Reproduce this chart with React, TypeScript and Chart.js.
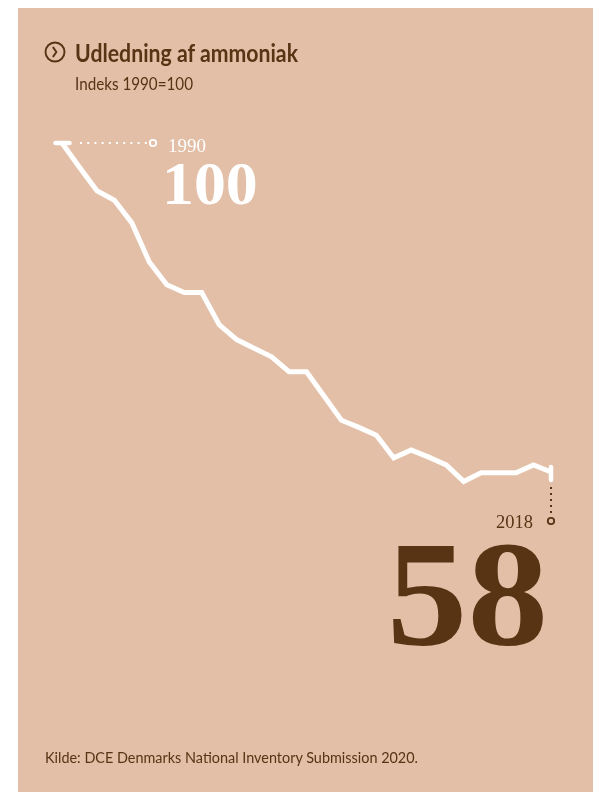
import React, { useEffect, useLayoutEffect, useRef } from "react";
import { Chart, registerables } from "chart.js";

Chart.register(...registerables);

const years = [
  1990, 1991, 1992, 1993, 1994, 1995, 1996, 1997, 1998, 1999,
  2000, 2001, 2002, 2003, 2004, 2005, 2006, 2007, 2008, 2009,
  2010, 2011, 2012, 2013, 2014, 2015, 2016, 2017, 2018,
];
const indexValues = [
  100, 96.9, 93.9, 92.7, 89.8, 84.8, 81.9, 80.9, 80.9, 76.8,
  74.9, 73.8, 72.7, 70.8, 70.8, 67.7, 64.6, 63.7, 62.7, 59.8,
  60.8, 59.9, 58.9, 56.8, 57.9, 57.9, 57.9, 58.9, 58.0,
];

const titleText = "Udledning af ammoniak";
const subtitleText = "Indeks 1990=100";
const sourceText = "Kilde: DCE Denmarks National Inventory Submission 2020.";
const startYearLabel = "1990";
const startValueLabel = "100";
const endYearLabel = "2018";
const endValueLabel = "58";

const BG = "#e2bfa6";
const BROWN = "#583314";
const PANEL_W = 575;
const PANEL_H = 784;

const markerPlugin = {
  id: "endMarkers",
  afterDatasetsDraw(chart: any) {
    const meta = chart.getDatasetMeta(0);
    const pts = meta.data;
    if (!pts || pts.length < 2) return;
    const p0 = pts[0];
    const pN = pts[pts.length - 1];
    const ctx = chart.ctx;
    ctx.save();
    ctx.strokeStyle = "#ffffff";
    ctx.lineCap = "round";
    ctx.lineWidth = 4.5;
    ctx.beginPath();
    ctx.moveTo(p0.x - 6.5, p0.y);
    ctx.lineTo(p0.x + 7.5, p0.y);
    ctx.stroke();
    ctx.lineCap = "butt";
    ctx.lineWidth = 2;
    ctx.setLineDash([2, 5.2]);
    ctx.beginPath();
    ctx.moveTo(p0.x + 18, p0.y);
    ctx.lineTo(p0.x + 85, p0.y);
    ctx.stroke();
    ctx.setLineDash([]);
    ctx.lineWidth = 1.8;
    ctx.beginPath();
    ctx.arc(p0.x + 91, p0.y, 3.2, 0, Math.PI * 2);
    ctx.stroke();
    ctx.lineCap = "round";
    ctx.lineWidth = 4.5;
    ctx.beginPath();
    ctx.moveTo(pN.x, pN.y - 5);
    ctx.lineTo(pN.x, pN.y + 8);
    ctx.stroke();
    ctx.strokeStyle = BROWN;
    ctx.lineCap = "butt";
    ctx.lineWidth = 2;
    ctx.setLineDash([2, 4]);
    ctx.beginPath();
    ctx.moveTo(pN.x, pN.y + 15);
    ctx.lineTo(pN.x, pN.y + 41);
    ctx.stroke();
    ctx.setLineDash([]);
    ctx.lineWidth = 1.8;
    ctx.beginPath();
    ctx.arc(pN.x, pN.y + 49, 3.2, 0, Math.PI * 2);
    ctx.stroke();
    ctx.restore();
  },
};

const sans = "Lato, 'Open Sans', sans-serif";
const serif = "'Liberation Serif', 'DejaVu Serif', serif";

function FitText(props: {
  text: string;
  width: number;
  origin?: string;
  style: React.CSSProperties;
}) {
  const ref = useRef<HTMLDivElement | null>(null);
  useLayoutEffect(() => {
    const el = ref.current;
    if (!el) return;
    el.style.transform = "none";
    const w = el.getBoundingClientRect().width;
    if (w > 0) el.style.transform = `scaleX(${props.width / w})`;
  }, [props.text, props.width]);
  return (
    <div
      ref={ref}
      style={{
        position: "absolute",
        margin: 0,
        whiteSpace: "nowrap",
        lineHeight: 1,
        display: "inline-block",
        transformOrigin: props.origin || "left center",
        ...props.style,
      }}
    >
      {props.text}
    </div>
  );
}

export default function App() {
  const canvasRef = useRef<HTMLCanvasElement | null>(null);

  useEffect(() => {
    const canvas = canvasRef.current;
    if (!canvas) return;
    const chart = new Chart(canvas, {
      type: "line",
      data: {
        datasets: [
          {
            data: years.map((yr, i) => ({ x: yr, y: indexValues[i] })),
            borderColor: "#ffffff",
            borderWidth: 5,
            pointRadius: 0,
            tension: 0,
            borderJoinStyle: "miter",
            borderCapStyle: "butt",
            clip: false as any,
            fill: false,
          },
        ],
      },
      options: {
        animation: false,
        responsive: false,
        maintainAspectRatio: false,
        devicePixelRatio: 1,
        layout: { padding: { left: 44, right: 42, top: 135, bottom: 320 } },
        plugins: {
          legend: { display: false },
          title: { display: false },
          tooltip: { enabled: false },
        },
        events: [],
        scales: {
          x: { type: "linear", min: years[0], max: years[years.length - 1], display: false },
          y: { type: "linear", min: 58, max: 100, display: false },
        },
      },
      plugins: [markerPlugin],
    });
    return () => chart.destroy();
  }, []);

  const abs = (style: React.CSSProperties): React.CSSProperties => ({
    position: "absolute",
    margin: 0,
    whiteSpace: "nowrap",
    lineHeight: 1,
    ...style,
  });

  return (
    <div
      style={{
        position: "absolute",
        left: 18,
        top: 8,
        width: PANEL_W,
        height: PANEL_H,
        background: BG,
        overflow: "hidden",
      }}
    >
      <canvas
        ref={canvasRef}
        width={PANEL_W}
        height={PANEL_H}
        style={{ position: "absolute", left: 0, top: 0, width: PANEL_W, height: PANEL_H }}
      />
      <svg
        width={24}
        height={24}
        viewBox="0 0 24 24"
        style={{ position: "absolute", left: 25, top: 32 }}
      >
        <circle cx={12} cy={12} r={9.5} fill="none" stroke={BROWN} strokeWidth={1.9} />
        <path d="M10.3 7.6 L13.4 12 L10.3 16.4" fill="none" stroke={BROWN} strokeWidth={1.9} strokeLinecap="round" strokeLinejoin="round" />
      </svg>
      <FitText
        text={titleText}
        width={223}
        style={{
          left: 57,
          top: 32,
          fontFamily: sans,
          fontWeight: 700,
          fontSize: 25,
          color: BROWN,
        }}
      />
      <FitText
        text={subtitleText}
        width={118}
        style={{
          left: 57,
          top: 65.5,
          fontFamily: sans,
          fontSize: 18,
          color: BROWN,
        }}
      />
      <div
        style={abs({
          left: 150,
          top: 128,
          fontFamily: serif,
          fontSize: 19,
          color: "#ffffff",
        })}
      >
        {startYearLabel}
      </div>
      <div
        style={abs({
          left: 144,
          top: 143.5,
          fontFamily: serif,
          fontWeight: 700,
          fontSize: 62,
          color: "#ffffff",
          transform: "scaleX(1.03)",
          transformOrigin: "left center",
        })}
      >
        {startValueLabel}
      </div>
      <div
        style={abs({
          right: 60,
          top: 505,
          fontFamily: serif,
          fontSize: 18.5,
          color: BROWN,
        })}
      >
        {endYearLabel}
      </div>
      <div
        style={abs({
          right: 45,
          top: 511,
          fontFamily: serif,
          fontWeight: 700,
          fontSize: 150,
          color: BROWN,
          transform: "scaleX(1.075)",
          transformOrigin: "right center",
        })}
      >
        {endValueLabel}
      </div>
      <FitText
        text={sourceText}
        width={373}
        style={{
          left: 27,
          top: 741.5,
          fontFamily: sans,
          fontSize: 15.5,
          color: BROWN,
        }}
      />
    </div>
  );
}
